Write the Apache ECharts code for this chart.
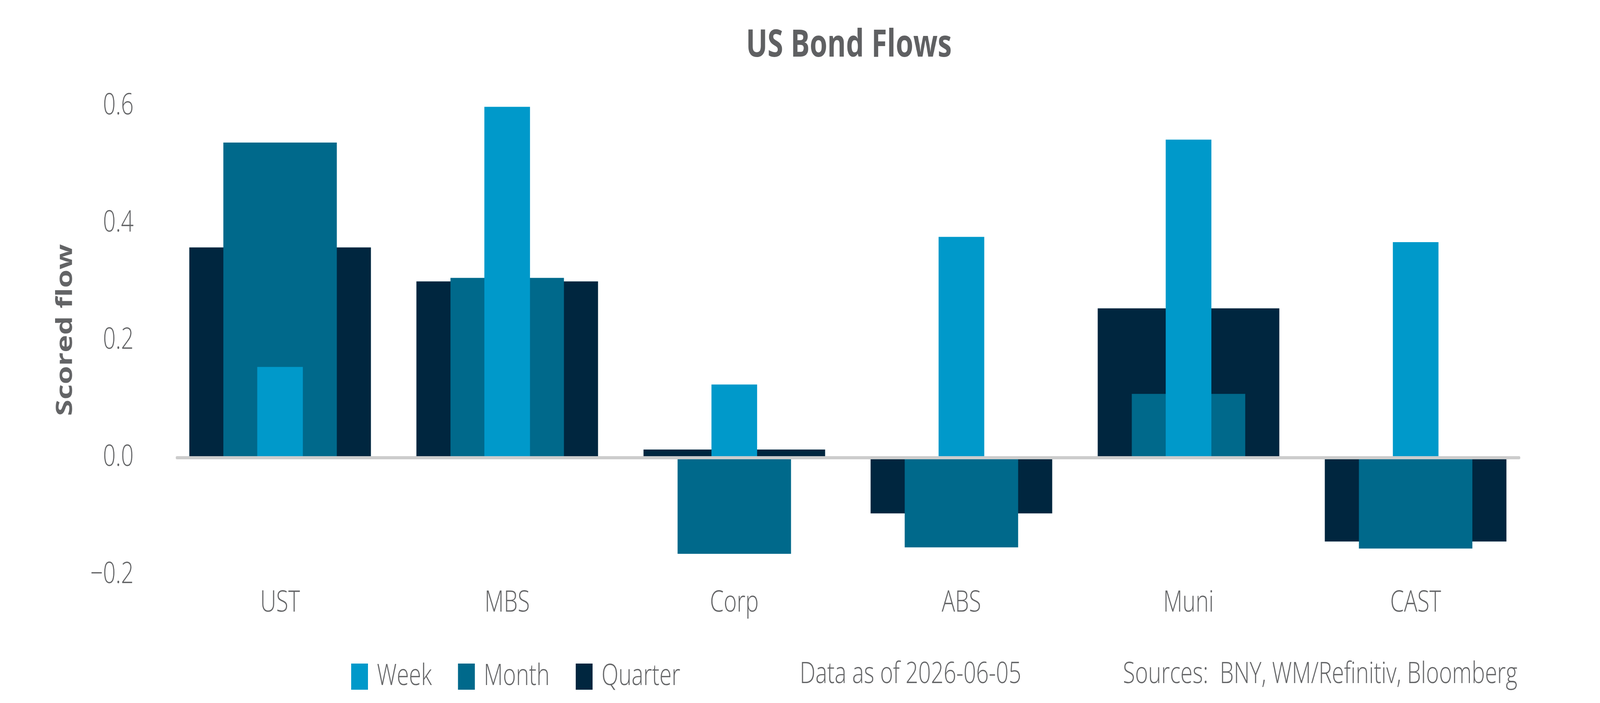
<!DOCTYPE html>
<html>
<head>
<meta charset="utf-8">
<style>
  html, body { margin: 0; padding: 0; background: #fff; overflow: hidden; }
  #chart { width: 5400px; height: 1800px; transform-origin: 0 0; }
</style>
<script src="https://cdn.jsdelivr.net/npm/echarts@6/dist/echarts.min.js"></script>
</head>
<body>
<div id="chart"></div>
<script>
var categories = ['UST', 'MBS', 'Corp', 'ABS', 'Muni', 'CAST'];
var weekFlow    = [0.155, 0.599, 0.125, 0.377, 0.543, 0.368];
var monthFlow   = [0.538, 0.307, -0.164, -0.153, 0.109, -0.155];
var quarterFlow = [0.359, 0.301, 0.014, -0.095, 0.255, -0.143];
var legendNames = ['Week', 'Month', 'Quarter'];

var TEXT = '#636466';
var FONT = '"Open Sans", "Liberation Sans", sans-serif';

// the window may be narrower than the 5400px design: squeeze to fit
var box = document.getElementById('chart');
var fit = Math.min(1, (window.innerWidth || 5400) / 5400);
if (fit < 1) box.style.transform = 'scaleX(' + fit + ')';

var myChart = echarts.init(box);

function fmt(v) {
    var s = Math.abs(v).toFixed(1);
    return v < -1e-9 ? '\u2212' + s : s;
}

var hiddenCat = {
    type: 'category',
    gridIndex: 0,
    data: categories,
    show: false
};

var option = {
    backgroundColor: '#fff',
    animation: false,
    title: [
        {
            text: 'US Bond Flows',
            left: 2865, top: 63,
            textAlign: 'center',
            padding: 0,
            textStyle: { fontFamily: FONT, fontSize: 96, fontWeight: 'bold', color: '#5f6062', lineHeight: 110 }
        },
        {
            text: 'Data as of 2026-06-05',
            left: 2699, top: 1683,
            padding: 0,
            textStyle: { fontFamily: FONT, fontSize: 75, fontWeight: 300, color: TEXT, lineHeight: 90 }
        },
        {
            text: 'Sources:  BNY, WM/Refinitiv, Bloomberg',
            right: 279, top: 1683,
            padding: 0,
            textStyle: { fontFamily: FONT, fontSize: 75, fontWeight: 300, color: TEXT, lineHeight: 90 }
        }
    ],
    legend: {
        data: legendNames,
        left: 1185, top: 1695,
        icon: 'rect',
        itemWidth: 57, itemHeight: 67,
        itemGap: 88,
        padding: 0,
        selectedMode: false,
        textStyle: { fontFamily: FONT, fontSize: 75, fontWeight: 300, color: TEXT, padding: [0, 0, 0, 25] }
    },
    grid: [
        { left: 562, right: 239, top: 272, bottom: 328 },
        { left: 597, right: 273, top: 272, bottom: 328 }
    ],
    xAxis: [
        {
            type: 'category',
            gridIndex: 0,
            data: categories,
            axisLine: { show: false, onZero: false },
            axisTick: { show: false },
            axisLabel: { fontFamily: FONT, fontSize: 75, fontWeight: 300, color: TEXT, margin: 35 }
        },
        hiddenCat,
        hiddenCat,
        {
            // zero line, a little shorter than the category range
            type: 'category',
            gridIndex: 1,
            data: categories,
            z: 10,
            axisLine: { show: true, onZero: true, lineStyle: { color: '#cccccc', width: 8 } },
            axisTick: { show: false },
            axisLabel: { show: false }
        }
    ],
    yAxis: [
        {
            type: 'value',
            gridIndex: 0,
            min: -0.2, max: 0.6, interval: 0.2,
            name: 'Scored flow',
            nameLocation: 'middle',
            nameGap: 303,
            nameTextStyle: { fontFamily: FONT, fontSize: 76, fontWeight: 'bold', color: TEXT, padding: [0, 0, 0, 54] },
            axisLine: { show: false },
            axisTick: { show: false },
            splitLine: { show: false },
            axisLabel: { fontFamily: FONT, fontSize: 75, fontWeight: 300, color: TEXT, margin: 111, formatter: fmt }
        },
        {
            type: 'value',
            gridIndex: 1,
            min: -0.2, max: 0.6, interval: 0.2,
            axisLine: { show: false },
            axisTick: { show: false },
            splitLine: { show: false },
            axisLabel: { show: false }
        }
    ],
    series: [
        {
            name: 'Quarter', type: 'bar',
            xAxisIndex: 0, yAxisIndex: 0,
            barWidth: 613,
            itemStyle: { color: '#00263f' },
            data: quarterFlow
        },
        {
            name: 'Month', type: 'bar',
            xAxisIndex: 1, yAxisIndex: 0,
            barWidth: 383,
            itemStyle: { color: '#00698b' },
            data: monthFlow
        },
        {
            name: 'Week', type: 'bar',
            xAxisIndex: 2, yAxisIndex: 0,
            barWidth: 154,
            itemStyle: { color: '#0099ca' },
            data: weekFlow
        }
    ]
};

myChart.setOption(option);
</script>
</body>
</html>
